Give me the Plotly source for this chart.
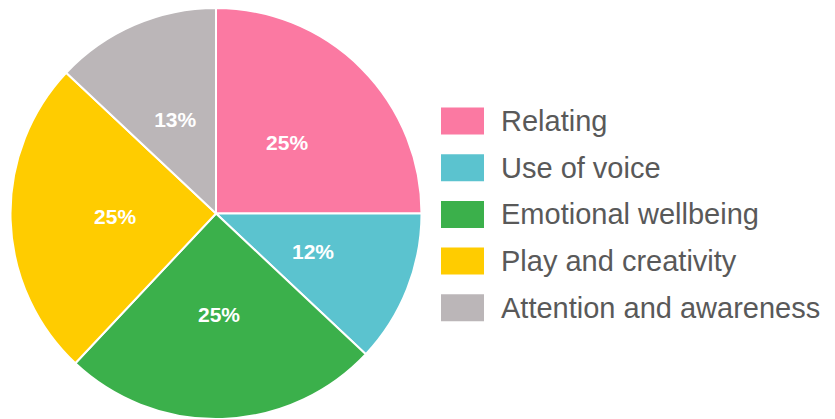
import plotly.graph_objects as go

categories = ["Relating", "Use of voice", "Emotional wellbeing", "Play and creativity", "Attention and awareness"]
values = [25, 12, 25, 25, 13]
colors = ["#FB79A2", "#5BC3CF", "#3BB04B", "#FFCC00", "#BBB6B8"]

cx = 216
H = 411
label_font = dict(family="Liberation Sans, Arial", size=21, color="white", weight="bold")

# main pie (geometry)
fig = go.Figure(go.Pie(
    labels=categories,
    values=values,
    sort=False,
    direction="clockwise",
    rotation=0,
    marker=dict(colors=colors, line=dict(color="white", width=2)),
    textinfo="none",
    domain=dict(x=[0, 432 / 835], y=[0, 1]),
    showlegend=False,
    hoverinfo="label+percent",
))


def label_pie(radius, show):
    """Transparent overlay pie of a given radius carrying percentage labels."""
    return go.Pie(
        labels=categories,
        values=values,
        sort=False,
        direction="clockwise",
        rotation=0,
        marker=dict(colors=["rgba(0,0,0,0)"] * len(values), line=dict(width=0)),
        texttemplate=[f"{v}%" if s else "" for v, s in zip(values, show)],
        textposition="inside",
        insidetextorientation="horizontal",
        textfont=label_font,
        domain=dict(x=[(cx - radius) / 835, (cx + radius) / 835],
                    y=[0.5 - radius / H, 0.5 + radius / H]),
        showlegend=False,
        hoverinfo="skip",
    )


big = [v >= 20 for v in values]
fig.add_trace(label_pie(172, big))
fig.add_trace(label_pie(143, [not b for b in big]))

# custom legend with large swatches
top = 1 - (121 - 8) / H
step = 46.7 / H
for i, (cat, col) in enumerate(zip(categories, colors)):
    yc = top - i * step
    fig.add_shape(type="rect", xref="paper", yref="paper",
                  x0=441 / 835, x1=484 / 835, y0=yc - 13.5 / H, y1=yc + 13.5 / H,
                  fillcolor=col, line=dict(width=0))
    fig.add_annotation(xref="paper", yref="paper", x=499 / 835, y=yc, text=cat,
                       showarrow=False, xanchor="left", yanchor="middle",
                       font=dict(family="Liberation Sans, Arial", size=29, color="#595959"))

fig.update_layout(
    width=835, height=419,
    margin=dict(l=0, r=0, t=8, b=0),
    paper_bgcolor="white",
    plot_bgcolor="white",
)

fig.write_html("out.html")
